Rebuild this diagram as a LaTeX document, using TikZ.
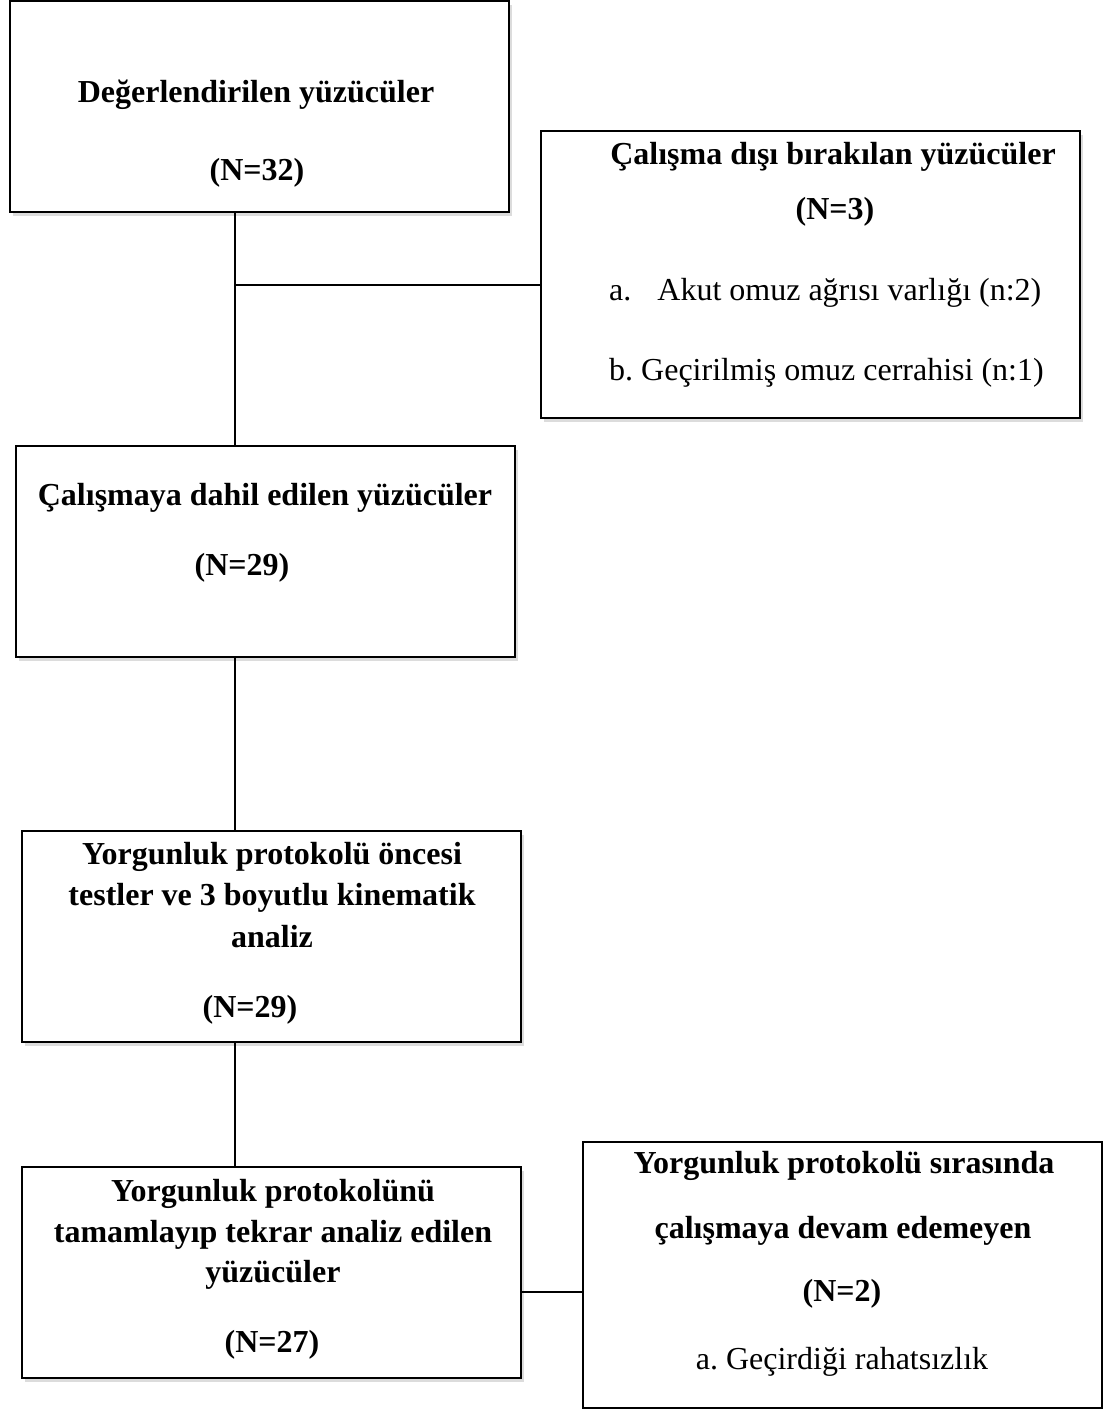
\documentclass[tikz,border=0pt]{standalone}
\usepackage{fontspec}
\setmainfont{Liberation Serif}
\usetikzlibrary{shadows}
\frenchspacing

\begin{document}
\begin{tikzpicture}[x=1pt,y=-1pt,
	box/.style={draw,line width=2pt,fill=white,outer sep=0pt,inner sep=0pt},
	shade/.style={drop shadow={shadow xshift=3pt,shadow yshift=-4pt,opacity=0.3,fill=black!45}},
	txt/.style={inner sep=0pt,text height=0.9em,text depth=0.2em,font=\fontsize{32}{38}\selectfont\bfseries},
	item/.style={inner sep=0pt,text height=0.9em,text depth=0.2em,font=\fontsize{32}{38}\selectfont},
	link/.style={line width=1.5pt}]

	\useasboundingbox (0,0) rectangle (1109,1410);

	%boxes
	\node[box,shade,minimum width=499pt,minimum height=211pt] (top) at (259.5,106.5) {}; %evaluated
	\node[box,shade,minimum width=539pt,minimum height=287pt] (out1) at (810.5,274.5) {}; %excluded
	\node[box,shade,minimum width=499pt,minimum height=211pt] (inc) at (265.5,551.5) {}; %included
	\node[box,shade,minimum width=499pt,minimum height=211pt] (pre) at (271.5,936.5) {}; %pre tests
	\node[box,shade,minimum width=499pt,minimum height=211pt] (post) at (271.5,1272.5) {}; %re-analysed
	\node[box,minimum width=519pt,minimum height=266pt] (out2) at (842.5,1275) {}; %dropped out

	%texts
	\node[txt] (top-a) at (256,99) {Değerlendirilen yüzücüler};
	\node[txt] (top-b) at (257,177) {(N=32)};

	\node[txt] (out1-a) at (833,161) {Çalışma dışı bırakılan yüzücüler};
	\node[txt] (out1-b) at (835,216) {(N=3)};
	\node[item,anchor=west] (out1-c) at (609,297) {a.\hspace{26pt}Akut omuz ağrısı varlığı (n:2)};
	\node[item,anchor=west] (out1-d) at (609,377) {b. Geçirilmiş omuz cerrahisi (n:1)};

	\node[txt] (inc-a) at (265,502) {Çalışmaya dahil edilen yüzücüler};
	\node[txt] (inc-b) at (242,572) {(N=29)};

	\node[txt] (pre-a) at (272,861) {Yorgunluk protokolü öncesi};
	\node[txt] (pre-b) at (272,902) {testler ve 3 boyutlu kinematik};
	\node[txt] (pre-c) at (272,944) {analiz};
	\node[txt] (pre-d) at (250,1014) {(N=29)};

	\node[txt] (post-a) at (273,1198) {Yorgunluk protokolünü};
	\node[txt] (post-b) at (273,1239) {tamamlayıp tekrar analiz edilen};
	\node[txt] (post-c) at (273,1279) {yüzücüler};
	\node[txt] (post-d) at (272,1349) {(N=27)};

	\node[txt] (out2-a) at (844,1170) {Yorgunluk protokolü sırasında};
	\node[txt] (out2-b) at (843,1235) {çalışmaya devam edemeyen};
	\node[txt] (out2-c) at (842,1298) {(N=2)};
	\node[item] (out2-d) at (842,1366) {a. Geçirdiği rahatsızlık};

	%connectors
	\coordinate (spine) at (235,0);
	\coordinate (br1) at (235,285);
	\coordinate (br2) at (0,1292);
	\draw[link] (spine |- top.south) -- (spine |- inc.north); %main line
	\draw[link] (br1) -- (br1 -| out1.west); %to excluded
	\draw[link] (spine |- inc.south) -- (spine |- pre.north);
	\draw[link] (spine |- pre.south) -- (spine |- post.north);
	\draw[link] (br2 -| post.east) -- (br2 -| out2.west); %to dropped out
\end{tikzpicture}
\end{document}
